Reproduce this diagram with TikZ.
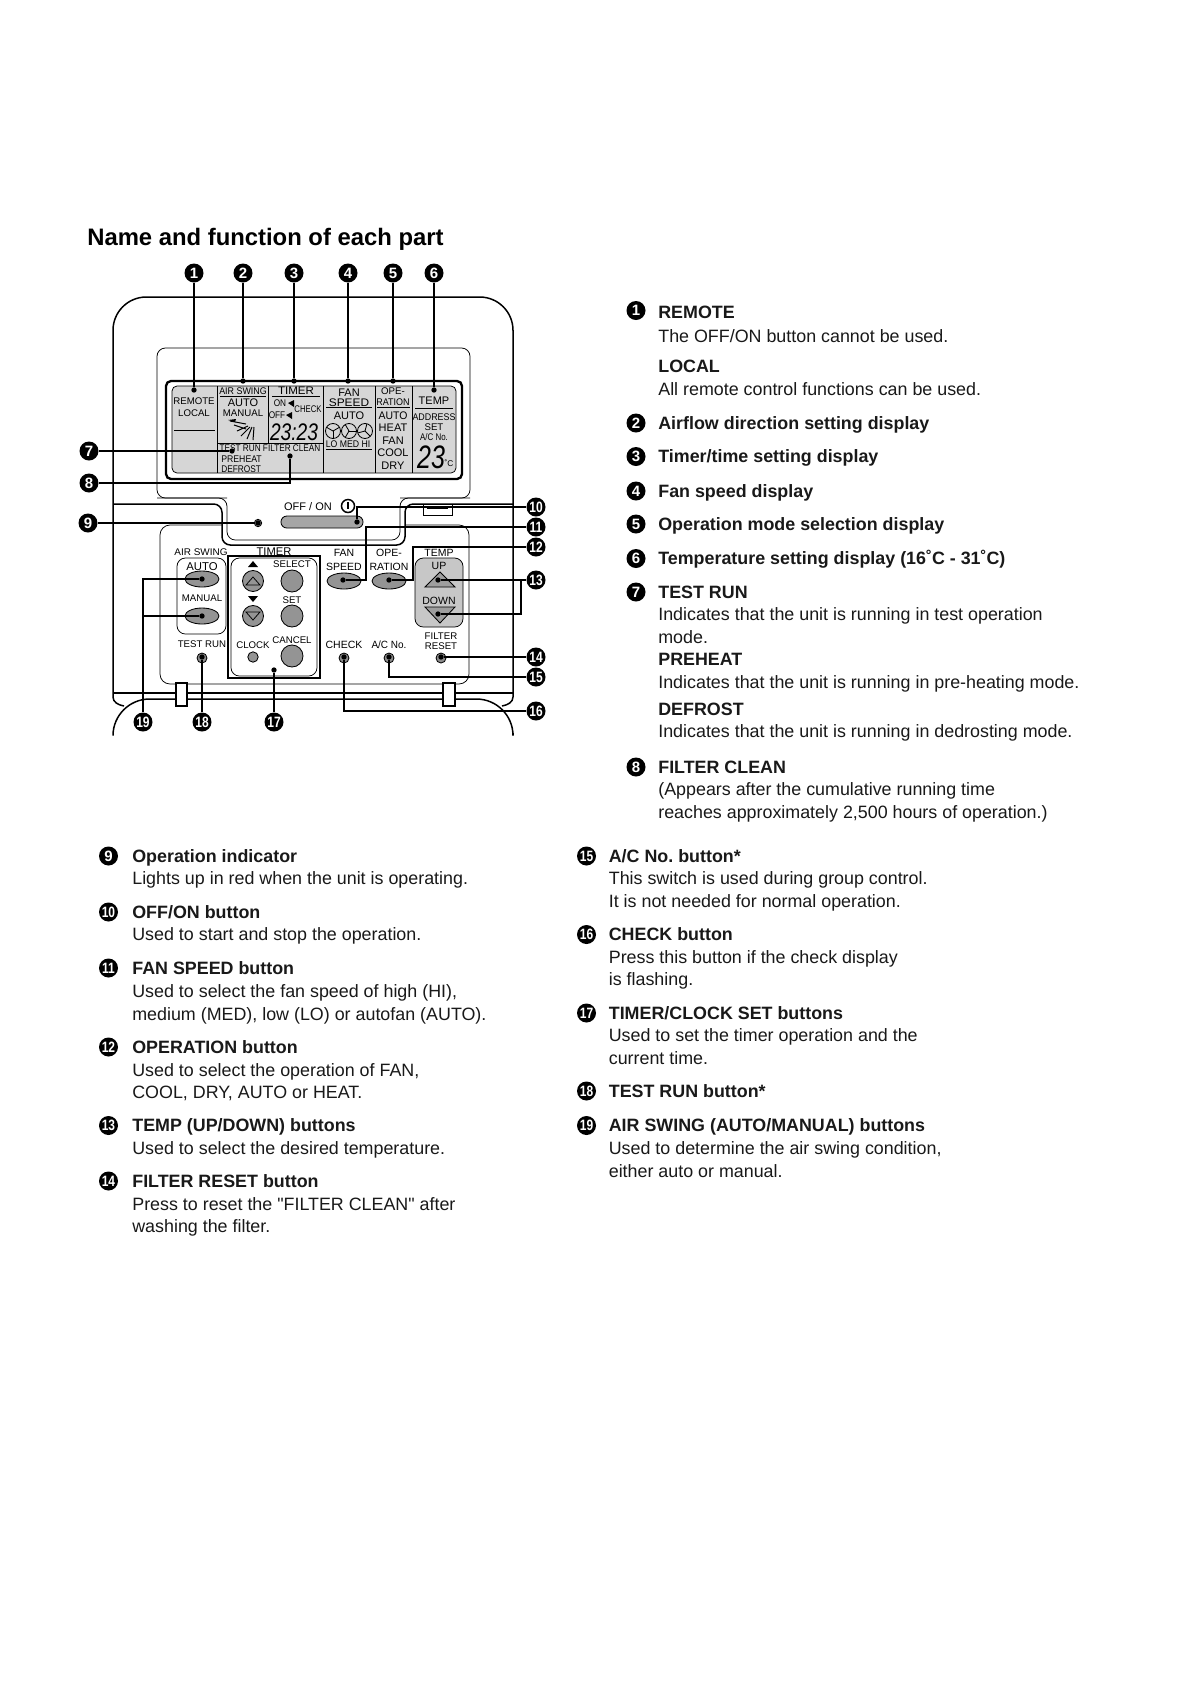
\documentclass[tikz,border=0pt]{standalone}
\usepackage{fontspec}
\setmainfont{Liberation Sans}
\newfontfamily\plainq{Liberation Sans}
\frenchspacing
\usetikzlibrary{calc}
\tikzset{
 x=0.6pt,y=-0.6pt,
 body/.style={anchor=base west,inner sep=0,yshift=-3.6pt,font=\fontsize{10.72}{13}\selectfont,text=black!90},
 head/.style={anchor=base west,inner sep=0,yshift=-3.6pt,font=\fontsize{10.72}{13}\selectfont\bfseries,text=black!90},
 title/.style={anchor=base west,inner sep=0,yshift=-4.6pt,font=\fontsize{14.3}{16}\selectfont\bfseries},
 num/.style={circle,fill=black,text=white,inner sep=0,minimum size=11.4pt,font=\fontsize{9}{9}\selectfont\bfseries},
 lcd/.style={inner sep=0,font=\fontsize{6.6}{7}\selectfont},
 lcdw/.style={inner sep=0,font=\fontsize{5.8}{7}\selectfont},
 lab/.style={inner sep=0,font=\fontsize{5.8}{7}\selectfont},
 labb/.style={inner sep=0,font=\fontsize{6.3}{7}\selectfont},
 dot/.style={circle,fill=black,inner sep=0,minimum size=3.2pt},
 thin line/.style={line width=.45pt},
 call/.style={line width=.9pt},
 btn/.style={draw=black,fill=black!42,line width=.5pt},
 led/.style={circle,draw=black,fill=black!45,line width=.5pt,inner sep=0},
}
\newcommand{\Bd}[4]{\node[body] (#1) at (#2,#3) {#4};}
\newcommand{\Hd}[4]{\node[head] (#1) at (#2,#3) {#4};}
\newcommand{\Nm}[4]{\node[num] (#1) at (#2,#3) {#4};}
\newcommand{\Nn}[4]{\node[num] (#1) at (#2,#3) {\scalebox{.8}[1]{#4}};}
\newcommand{\Fan}[3]{%
 \draw[line width=.5pt] (#1,#2) circle[radius=7.5];
 \foreach \a in {#3,#3+120,#3+240}{\draw[line width=.5pt] (#1,#2) -- ++({7.5*cos(\a)},{7.5*sin(\a)});}}
\begin{document}
\begin{tikzpicture}
\useasboundingbox[fill=white] (0,0) rectangle (1190,1684);
\node[title] (ttl) at (87,238) {Name and function of each part};

% --- unit outlines
\draw[line width=.9pt,rounded corners=20pt] (113,697) -- (113,297) -- (513,297) -- (513,697);
\draw[line width=.9pt] (113,697) .. controls (113,702) and (118,705) .. (124,706);
\draw[line width=.9pt] (513,697) .. controls (513,702) and (508,705) .. (502,706);
\draw[line width=.9pt] (113,693) -- (513,693);
\draw[line width=.9pt,rounded corners=22pt] (113,733) -- (113,699) -- (513,699) -- (513,733);
\draw[thin line,rounded corners=5pt] (227,498) -- (157,498) -- (157,348) -- (470,348) -- (470,498) -- (400,498);
\draw[thin line,rounded corners=5pt] (157,498) -- (227,498) -- (227,540) -- (400,540) -- (400,498) -- (470,498);
\draw[line width=.9pt,rounded corners=5pt] (113,504) -- (222,504) -- (222,545) -- (405,545) -- (405,504) -- (513,504);
\draw[thin line] (423,504) -- (423,515) -- (452,515) -- (452,504) (427,508) -- (448,508);
\draw[thin line,rounded corners=6pt] (222,525) -- (160,525) -- (160,684) -- (469,684) -- (469,525) -- (405,525);
\draw[line width=.8pt,fill=white] (176,683) rectangle (187,706);
\draw[line width=.8pt,fill=white] (443,683) rectangle (455,706);

% --- LCD
\draw[line width=1.4pt,rounded corners=3pt] (166,381) rectangle (462,479);
\draw[thin line,fill=black!16,rounded corners=3pt] (172,386) rectangle (456,473);
\draw[thin line] (217,386) -- (217,473) (268,386) -- (268,443) (323,386) -- (323,473) (375,386) -- (375,473) (412,386) -- (412,473);
\draw[thin line] (217,443) -- (323,443) (174,430) -- (215,430) (220,396) -- (266,396) (272,396.5) -- (320,396.5) (326,407) -- (372,407) (377,407.5) -- (410,407.5) (415,408) -- (453,408) (326,449) -- (372,449);
\node[lcdw] (lremote) at (194,401) {REMOTE};
\node[lcdw] (llocal) at (194,413) {LOCAL};
\node[lcdw] (lair) at (243,391) {\scalebox{.92}[1]{AIR SWING}};
\node[lcd] (lauto) at (243,403) {AUTO};
\node[lcdw] (lman) at (243,413) {MANUAL};
\draw[line width=.6pt] (230,421) -- (246,424) (234,425) -- (246,429) (237,431) -- (248,426) (241,436) -- (250,427) (247,439) -- (252,427) (253,440) -- (254,427);
\fill (228,420) -- (236,419) -- (235,422) -- cycle;
\node[lcd] (ltimer) at (296,391) {\scalebox{1.05}[1]{TIMER}};
\node[lcdw] (lon) at (280,403) {\scalebox{.85}[1]{ON}};
\node[lcdw] (loff) at (277,415) {\scalebox{.85}[1]{OFF}};
\fill (288,403) -- (294,400) -- (294,407) -- cycle;
\fill (286,415) -- (292,412) -- (292,419) -- cycle;
\node[lcdw] (lcheck) at (308,409) {\scalebox{.8}[1]{CHECK}};
\node[inner sep=0,font=\fontsize{11.5}{13}\selectfont\itshape] (ltime) at (294,432) {\scalebox{1}[1.25]{23:23}};
\node[lcdw] (ltest) at (270,448) {\scalebox{.85}[1]{TEST RUN FILTER CLEAN}};
\node[lcdw,anchor=west] (lpre) at (221,459) {\scalebox{.9}[1]{PREHEAT}};
\node[lcdw,anchor=west] (ldef) at (221,469) {\scalebox{.86}[1]{DEFROST}};
\node[lcd] (lfan) at (349,393) {FAN};
\node[lcd] (lspeed) at (349,403) {\scalebox{1.08}[1]{SPEED}};
\node[lcd] (lauto2) at (349,416) {AUTO};
\Fan{333}{431}{90}
\Fan{349}{431}{0}
\Fan{365}{431}{45}
\node[lcdw] (llo) at (348,444) {\scalebox{.9}[1]{LO MED HI}};
\node[lcdw] (lope) at (393,391) {OPE-};
\node[lcdw] (lrat) at (393,402) {\scalebox{.93}[1]{RATION}};
\node[lcd] (la3) at (393,416) {\scalebox{.95}[1]{AUTO}};
\node[lcd] (lheat) at (393,428) {HEAT};
\node[lcd] (lfan2) at (393,441) {FAN};
\node[lcd] (lcool) at (393,453) {COOL};
\node[lcd] (ldry) at (393,466) {DRY};
\node[lcd] (ltemp) at (434,401) {TEMP};
\node[lcdw] (laddr) at (434,417) {\scalebox{.92}[1]{ADDRESS}};
\node[lcdw] (lset) at (434,427) {SET};
\node[lcdw] (lacn) at (434,437) {\scalebox{.82}[1]{A/C No.}};
\node[inner sep=0,font=\fontsize{15}{18}\selectfont\itshape] (lnum) at (431,457) {\scalebox{1}[1.3]{23}};
\node[inner sep=0,font=\fontsize{5}{6}\selectfont] (ldeg) at (449,463) {˚C};

% --- OFF/ON
\node[lab,font=\fontsize{6.6}{7}\selectfont] (loffon) at (308,507) {OFF / ON};
\draw[line width=.9pt] (348,506) circle[radius=6.5];
\draw[line width=.9pt] (348,502) -- (348,509);
\draw[btn,fill=black!35,rounded corners=3.5pt] (281,516) rectangle (363,528);
\node[led,minimum size=4.4pt] (ledn) at (258,523) {};

% --- control labels
\node[lab] (tair) at (201,552) {\scalebox{1.03}[1]{AIR SWING}};
\draw[thin line,rounded corners=5pt] (177,558) rectangle (226,634);
\node[lab,font=\fontsize{6.8}{7}\selectfont] (tauto) at (202,567) {AUTO};
\node[lab] (tman) at (202,598) {MANUAL};
\node[lab] (ttest) at (202,644) {TEST RUN};
\node[lab,font=\fontsize{6.7}{7}\selectfont] (ttimer) at (274,552) {TIMER};
\draw[line width=1.1pt,fill=white] (228,556) rectangle (320,678);
\draw[thin line,rounded corners=5pt] (231,558) rectangle (317,676);
\fill (248,567) -- (258,567) -- (253,561) -- cycle;
\fill (248,596) -- (258,596) -- (253,602) -- cycle;
\node[lab] (tsel) at (292,564) {SELECT};
\node[lab] (tset) at (292,600) {SET};
\node[lab] (tclock) at (253,645) {CLOCK};
\node[lab] (tcan) at (292,640) {CANCEL};
\draw[btn] (253,581) circle[radius=10.5] (292,581) circle[radius=11] (253,616) circle[radius=10.5] (292,616) circle[radius=11] (292,656) circle[radius=11] (253,657) circle[radius=5.2];
\draw[thin line] (246,585) -- (260,585) -- (253,577) -- cycle (246,612) -- (260,612) -- (253,620) -- cycle;
\node[labb] (tfan) at (344,553) {FAN};
\node[labb] (tspd) at (344,567) {SPEED};
\node[labb] (tope) at (389,553) {OPE-};
\node[labb] (trat) at (389,567) {RATION};
\node[labb] (ttmp) at (439,553) {TEMP};
\draw[thin line,fill=black!22,rounded corners=5pt] (415,558) rectangle (463,627);
\node[labb] (tup) at (439,566) {UP};
\draw[btn,fill=black!38] (425,587) -- (455,587) -- (440,572) -- cycle;
\node[labb] (tdn) at (439,601) {DOWN};
\draw[btn,fill=black!38] (425,607) -- (455,607) -- (440,623) -- cycle;
\node[labb] (tchk) at (344,645) {CHECK};
\node[labb] (tacn) at (389,645) {\scalebox{.95}[1]{A/C No.}};
\node[lab] (tflt) at (441,636) {FILTER};
\node[lab] (trst) at (441,646) {RESET};
\draw[btn] (202,579) ellipse[x radius=17,y radius=8] (202,616) ellipse[x radius=17,y radius=8] (344,581) ellipse[x radius=17,y radius=8] (389,581) ellipse[x radius=17,y radius=8];
\node[led,minimum size=6pt] (ltr) at (202,658) {};
\node[led,minimum size=6pt] (lck) at (344,658) {};
\node[led,minimum size=6pt] (lac) at (389,658) {};
\node[led,minimum size=6pt] (lfr) at (441,658) {};

% --- callouts
\Nm{c1}{194}{273}{1}\Nm{c2}{243}{273}{2}\Nm{c3}{294}{273}{3}\Nm{c4}{348}{273}{4}\Nm{c5}{393}{273}{5}\Nm{c6}{434}{273}{6}
\Nm{c7}{89}{451}{7}\Nm{c8}{89}{483}{8}\Nm{c9}{88}{523}{9}
\Nn{c10}{536}{507}{10}\Nn{c11}{536}{527}{11}\Nn{c12}{536}{547}{12}\Nn{c13}{536}{580}{13}\Nn{c14}{536}{657}{14}\Nn{c15}{536}{677}{15}\Nn{c16}{536}{711}{16}
\Nn{c17}{274}{722}{17}\Nn{c18}{202}{722}{18}\Nn{c19}{143}{722}{19}
\node[dot] (d1) at (194,390) {};\node[dot] (d2) at (243,381) {};\node[dot] (d3) at (294,381) {};\node[dot] (d4) at (348,381) {};\node[dot] (d5) at (393,381) {};\node[dot] (d6) at (434,390) {};
\node[dot] (d7) at (232,451) {};\node[dot] (d8) at (290,456) {};\node[dot] (d9) at (258,523) {};
\node[dot] (d10) at (357,522) {};\node[dot] (d11) at (343,580) {};\node[dot] (d12) at (389,580) {};
\node[dot] (d13a) at (438,580) {};\node[dot] (d13b) at (438,614) {};
\node[dot] (d14) at (441,657) {};\node[dot] (d15) at (389,657) {};\node[dot] (d16) at (344,657) {};\node[dot] (d17) at (274,670) {};\node[dot] (d18) at (202,657) {};
\node[dot] (d19a) at (202,579) {};\node[dot] (d19b) at (202,616) {};
\coordinate (k11) at (366,580);\coordinate (k12) at (413,580);\coordinate (k13) at (521,580);
\draw[call] (c1)--(d1) (c2)--(d2) (c3)--(d3) (c4)--(d4) (c5)--(d5) (c6)--(d6) (c7)--(d7) (c8)-|(d8) (c9)--(d9);
\draw[call] (c10)-|(d10);
\draw[call] (c11)-|(k11)--(d11);
\draw[call] (c12)-|(k12)--(d12);
\draw[call] (c13)--(d13a) (k13)|-(d13b);
\draw[call] (c14)--(d14) (c15)-|(d15) (c16)-|(d16) (c17)--(d17) (c18)--(d18);
\draw[call] (c19)|-(d19a) (c19)|-(d19b);

% --- right column
\Nm{n1}{636}{310.5}{1}\Hd{r1}{658}{312.5}{REMOTE}
\Bd{r2}{658}{336}{The OFF/ON button cannot be used.}
\Hd{r3}{658}{366}{LOCAL}
\Bd{r4}{658}{389}{All remote control functions can be used.}
\Nm{n2}{636}{423}{2}\Hd{r5}{658}{423}{Airflow direction setting display}
\Nm{n3}{636}{456.5}{3}\Hd{r6}{658}{456.5}{Timer/time setting display}
\Nm{n4}{636}{491}{4}\Hd{r7}{658}{491}{Fan speed display}
\Nm{n5}{636}{524}{5}\Hd{r8}{658}{524}{Operation mode selection display}
\Nm{n6}{636}{558.5}{6}\Hd{r9}{658}{558.5}{Temperature setting display (16˚C - 31˚C)}
\Nm{n7}{636}{592}{7}\Hd{r10}{658}{592}{TEST RUN}
\Bd{r11}{658}{614.5}{Indicates that the unit is running in test operation}
\Bd{r12}{658}{637}{mode.}
\Hd{r13}{658}{659.5}{PREHEAT}
\Bd{r14}{658}{682}{Indicates that the unit is running in pre-heating mode.}
\Hd{r15}{658}{709}{DEFROST}
\Bd{r16}{658}{731.5}{Indicates that the unit is running in dedrosting mode.}
\Nm{n8}{636}{767}{8}\Hd{r17}{658}{767}{FILTER CLEAN}
\Bd{r18}{658}{789.5}{(Appears after the cumulative running time}
\Bd{r19}{658}{812}{reaches approximately 2,500 hours of operation.)}

% --- bottom left
\Nm{n9}{108.5}{856}{9}\Hd{a1}{132}{856}{Operation indicator}
\Bd{a2}{132}{878.5}{Lights up in red when the unit is operating.}
\Nn{n10}{108.5}{912}{10}\Hd{a3}{132}{912}{OFF/ON button}
\Bd{a4}{132}{934.5}{Used to start and stop the operation.}
\Nn{n11}{108.5}{968}{11}\Hd{a5}{132}{968}{FAN SPEED button}
\Bd{a6}{132}{991}{Used to select the fan speed of high (HI),}
\Bd{a7}{132}{1014}{medium (MED), low (LO) or autofan (AUTO).}
\Nn{n12}{108.5}{1047}{12}\Hd{a8}{132}{1047}{OPERATION button}
\Bd{a9}{132}{1070}{Used to select the operation of FAN,}
\Bd{a10}{132}{1092}{COOL, DRY, AUTO or HEAT.}
\Nn{n13}{108.5}{1125.5}{13}\Hd{a11}{132}{1125.5}{TEMP (UP/DOWN) buttons}
\Bd{a12}{132}{1148}{Used to select the desired temperature.}
\Nn{n14}{108.5}{1181}{14}\Hd{a13}{132}{1181}{FILTER RESET button}
\Bd{a14}{132}{1204}{\plainq Press to reset the "FILTER CLEAN" after}
\Bd{a15}{132}{1226.5}{washing the filter.}

% --- bottom right
\Nn{n15}{586.5}{856}{15}\Hd{b1}{608.5}{856}{A/C No. button*}
\Bd{b2}{608.5}{878.5}{This switch is used during group control.}
\Bd{b3}{608.5}{901}{It is not needed for normal operation.}
\Nn{n16}{586.5}{934.5}{16}\Hd{b4}{608.5}{934.5}{CHECK button}
\Bd{b5}{608.5}{957}{Press this button if the check display}
\Bd{b6}{608.5}{979.5}{is flashing.}
\Nn{n17}{586.5}{1013}{17}\Hd{b7}{608.5}{1013}{TIMER/CLOCK SET buttons}
\Bd{b8}{608.5}{1035}{Used to set the timer operation and the}
\Bd{b9}{608.5}{1058}{current time.}
\Nn{n18}{586.5}{1091}{18}\Hd{b10}{608.5}{1091}{TEST RUN button*}
\Nn{n19}{586.5}{1125.5}{19}\Hd{b11}{608.5}{1125.5}{AIR SWING (AUTO/MANUAL) buttons}
\Bd{b12}{608.5}{1148}{Used to determine the air swing condition,}
\Bd{b13}{608.5}{1171}{either auto or manual.}
\end{tikzpicture}
\end{document}
